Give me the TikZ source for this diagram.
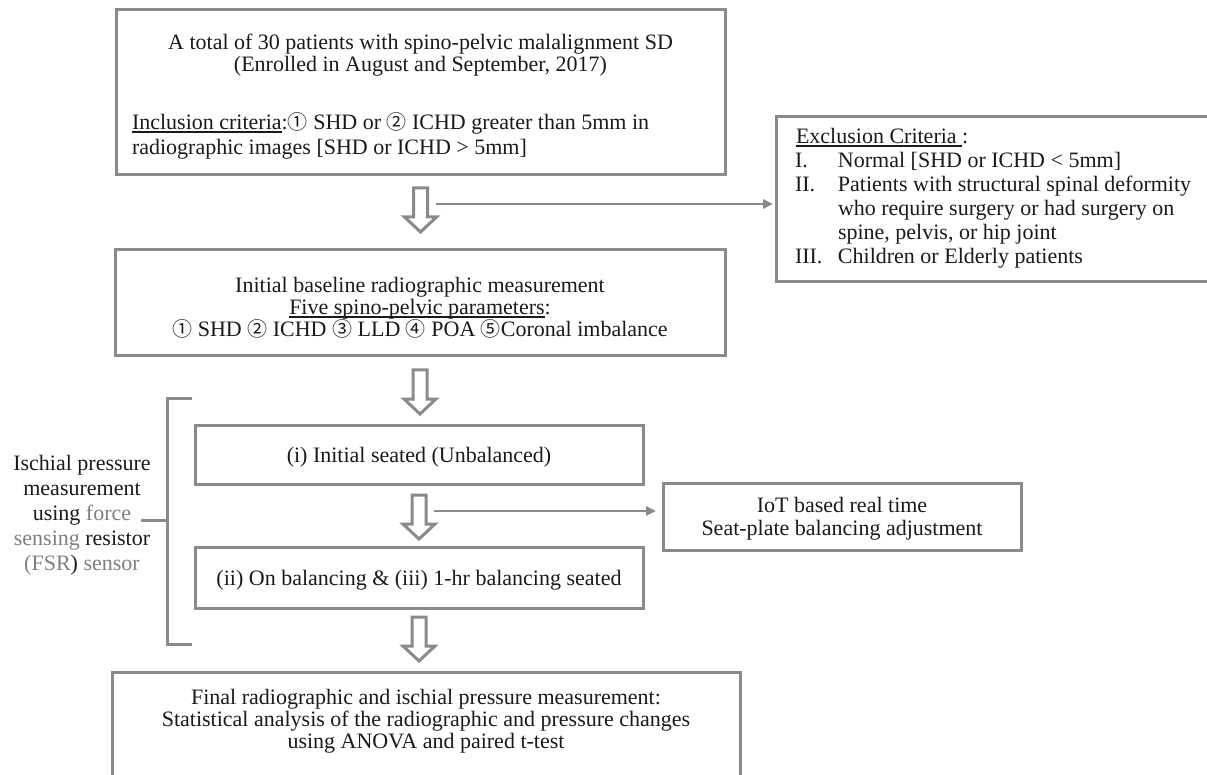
\documentclass[tikz,border=0pt]{standalone}
\usepackage{fontspec}
\setmainfont{Liberation Serif}
\newfontfamily\cjk{Noto Sans CJK JP}
\usetikzlibrary{arrows.meta}
\definecolor{bgray}{HTML}{8A8A8A}
\definecolor{tgray}{HTML}{7F7F7F}
\definecolor{ink}{HTML}{1A1A1A}
\newcommand\undl[1]{\leavevmode\setbox0\hbox{#1}\rlap{\rule[-2.6pt]{\wd0}{1.3pt}}\box0}
\newcommand\cn[1]{{\cjk\fontsize{20}{24}\selectfont #1}}
\begin{document}
\begin{tikzpicture}[x=1pt,y=-1pt,
  box/.style={draw=bgray,line width=3pt,inner sep=0pt,outer sep=0pt},
  txt/.style={inner sep=0pt,outer sep=0pt,text=ink,font=\fontsize{22}{24}\selectfont},
  conn/.style={draw=bgray,line width=2.5pt},
  tipped/.style={-{Triangle[length=10pt,width=9pt]}},
  harrow/.style={draw=bgray,line width=3pt,line join=miter,fill=white},
  hollowarrow/.pic={\path[harrow] (-7,0) -- (7,0) -- (7,29) -- (16,29) -- (0,44) -- (-16,29) -- (-7,29) -- cycle;
     \coordinate (-r) at (15,16);}
]
\useasboundingbox (0,0) rectangle (1207,775);
% boxes
\node[box,minimum width=609pt,minimum height=165pt] (box1) at (420.5,92.5) {};
\node[box,minimum width=454pt,minimum height=165pt] (excl) at (1003,199.5) {};
\node[box,minimum width=610pt,minimum height=106pt] (box2) at (420,303) {};
\node[box,minimum width=448pt,minimum height=59pt] (boxi) at (419,454.5) {};
\node[box,minimum width=358pt,minimum height=67pt] (iot) at (842,516.5) {};
\node[box,minimum width=448pt,minimum height=61pt] (boxii) at (419,577.5) {};
\node[box,minimum width=628pt,minimum height=138pt] (final) at (426,741) {};
% box 1 text
\node[txt,anchor=base] (t1) at (420.5,50) {A total of 30 patients with spino-pelvic malalignment SD};
\node[txt,anchor=base] (t2) at (420.5,72) {(Enrolled in August and September, 2017)};
\node[txt,anchor=base west] (t3) at (132,130) {\undl{Inclusion criteria}:\cn{①} SHD or \cn{②} ICHD greater than 5mm in};
\node[txt,anchor=base west] (t4) at (132,155) {radiographic images [SHD or ICHD > 5mm]};
% exclusion text
\node[txt,anchor=base west] (e0) at (796,144) {\undl{Exclusion Criteria\ }:};
\node[txt,anchor=base west] (e1) at (795,168) {\makebox[43pt][l]{I.}Normal [SHD or ICHD < 5mm]};
\node[txt,anchor=base west] (e2) at (795,192) {\makebox[43pt][l]{II.}Patients with structural spinal deformity};
\node[txt,anchor=base west] (e3) at (838,216) {who require surgery or had surgery on};
\node[txt,anchor=base west] (e4) at (838,240) {spine, pelvis, or hip joint};
\node[txt,anchor=base west] (e5) at (795,264) {\makebox[43pt][l]{III.}Children or Elderly patients};
% box 2 text
\node[txt,anchor=base] (b21) at (420,293) {Initial baseline radiographic measurement};
\node[txt,anchor=base] (b22) at (420,315) {\undl{Five spino-pelvic parameters}:};
\node[txt,anchor=base] (b23) at (420,337) {\cn{①} SHD \cn{②} ICHD \cn{③} LLD \cn{④} POA \cn{⑤}Coronal imbalance};
% left label
\node[txt,anchor=base] (l1) at (82,470) {Ischial pressure};
\node[txt,anchor=base] (l2) at (82,495) {measurement};
\node[txt,anchor=base] (l3) at (82,520) {using \textcolor{tgray}{force}};
\node[txt,anchor=base] (l4) at (82,545) {\textcolor{tgray}{sensing} resistor};
\node[txt,anchor=base] (l5) at (82,570) {\textcolor{tgray}{(FSR}) \textcolor{tgray}{sensor}};
% stage texts
\node[txt,anchor=base] (ti) at (419,462) {(i) Initial seated (Unbalanced)};
\node[txt,anchor=base] (io1) at (842,512) {IoT based real time};
\node[txt,anchor=base] (io2) at (842,535) {Seat-plate balancing adjustment};
\node[txt,anchor=base] (tii) at (419,585) {(ii) On balancing \& (iii) 1-hr balancing seated};
\node[txt,anchor=base] (f1) at (426,704) {Final radiographic and ischial pressure measurement:};
\node[txt,anchor=base] (f2) at (426,726) {Statistical analysis of the radiographic and pressure changes};
\node[txt,anchor=base] (f3) at (426,748) {using ANOVA and paired t-test};
% hollow arrows
\pic (a1) at ([yshift=-13pt]box1.south) {hollowarrow};
\pic (a2) at ([yshift=-14pt]box2.south) {hollowarrow};
\pic (a3) at ([yshift=-11pt]boxi.south) {hollowarrow};
\pic (a4) at ([yshift=-9pt]boxii.south) {hollowarrow};
% side connectors
\draw[conn,tipped,shorten >=3pt] (a1-r) -- (a1-r -| excl.west);
\draw[conn,tipped,shorten >=7pt] (a3-r) -- (a3-r -| iot.west);
% bracket
\coordinate (bt) at (167,398);
\coordinate (bb) at (167,644);
\draw[conn,line width=3pt] ([xshift=25pt]bt) -- (bt) -- (bb) -- ([xshift=25pt]bb);
\draw[conn,line width=3pt] ([xshift=10pt]l3.base east) -- (l3.base east -| bt);
\end{tikzpicture}
\end{document}
